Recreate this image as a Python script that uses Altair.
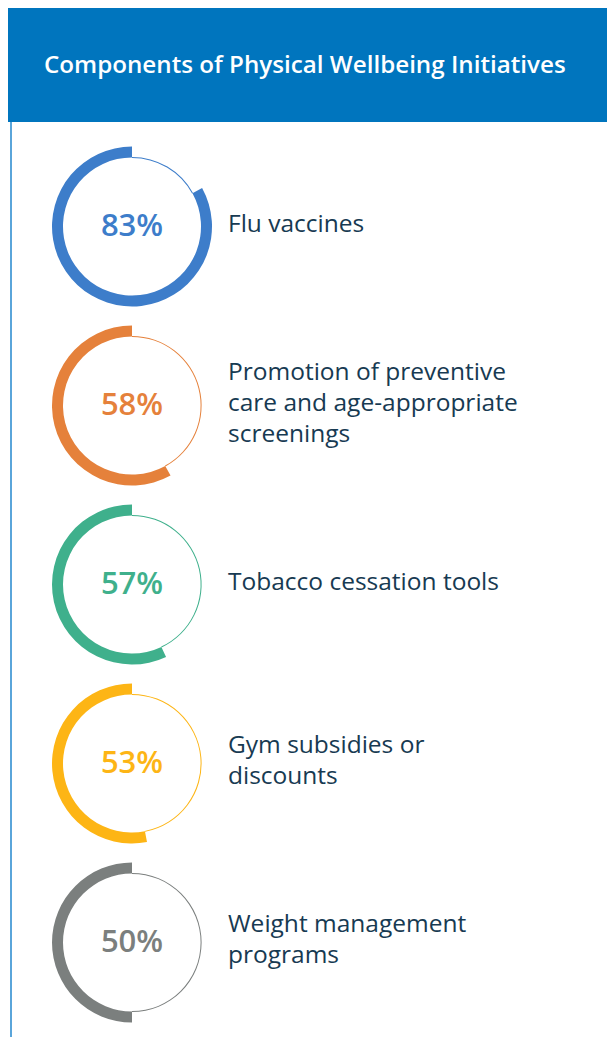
import math
import altair as alt
import pandas as pd

title = "Components of Physical Wellbeing Initiatives"
labels = [
    "Flu vaccines",
    "Promotion of preventive\ncare and age-appropriate\nscreenings",
    "Tobacco cessation tools",
    "Gym subsidies or\ndiscounts",
    "Weight management\nprograms",
]
values = [83, 58, 57, 53, 50]
ring_colors = ["#3D7DCA", "#E5813B", "#3FB08C", "#FDB515", "#7B7F7E"]
pct_colors = ["#0F72B8", "#E5813B", "#3FB08C", "#FDB515", "#7B7F7E"]

W, H = 599, 1029

df = pd.DataFrame({
    "label": labels,
    "value": values,
    "pct": [f"{v}%" for v in values],
    "zero": [0] * len(values),
    "full": [100] * len(values),
})
df["start"] = 100 - df["value"]

# one row per text line, centred on the ring
rows = []
for lab_text in labels:
    parts = lab_text.split("\n")
    n = len(parts)
    for i, p in enumerate(parts):
        rows.append({"label": lab_text, "line": p, "off": i - (n - 1) / 2})
lines_df = pd.DataFrame(rows)

yscale = alt.Scale(type="point", domain=labels, range=[218.5, 934.5], padding=0)
y_enc = alt.Y("label:N", scale=yscale, axis=None)
theta_scale = alt.Scale(type="linear", domain=[0, 100], range=[0, 2 * math.pi])
ring_color = alt.Color("label:N", scale=alt.Scale(domain=labels, range=ring_colors), legend=None)
pct_color = alt.Color("label:N", scale=alt.Scale(domain=labels, range=pct_colors), legend=None)

base = alt.Chart(df)

thin = base.mark_arc(radius=69.6, radius2=68.6).encode(
    x=alt.value(124),
    y=y_enc,
    theta=alt.Theta("zero:Q", scale=theta_scale),
    theta2="start:Q",
    color=ring_color,
)

thick = base.mark_arc(radius=80, radius2=69).encode(
    x=alt.value(124),
    y=y_enc,
    theta=alt.Theta("start:Q", scale=theta_scale),
    theta2="full:Q",
    color=ring_color,
)

pct = base.mark_text(font="Open Sans", fontSize=31, fontWeight=600, align="center", baseline="middle").encode(
    x=alt.value(124),
    y=y_enc,
    text="pct:N",
    color=pct_color,
)

lab = alt.Chart(lines_df).mark_text(font="Open Sans", fontSize=24.5, align="left", baseline="middle",
                                    color="#173A52", dy=-2).encode(
    x=alt.value(220),
    y=y_enc,
    yOffset=alt.YOffset("off:Q", scale=alt.Scale(domain=[-1, 1], range=[-31, 31])),
    text="line:N",
)

hdr_df = pd.DataFrame({"title": [title]})
header = alt.Chart(hdr_df).mark_rect(color="#0075BE").encode(
    x=alt.value(0), x2=alt.value(W), y=alt.value(0), y2=alt.value(114)
)
header_text = alt.Chart(hdr_df).mark_text(font="Open Sans", fontSize=24.2, fontWeight=600,
                                          color="white", align="left", baseline="middle").encode(
    x=alt.value(36), y=alt.value(58), text="title:N"
)
left_line = alt.Chart(hdr_df).mark_rule(color="#5AA5DA", strokeWidth=2).encode(
    x=alt.value(3), y=alt.value(114), y2=alt.value(H)
)

chart = alt.layer(header, header_text, left_line, thin, thick, pct, lab).properties(
    width=W, height=H, autosize=alt.AutoSizeParams(type="none"), padding=0
).configure_view(stroke=None)

chart.save("out.html", embed_options={"renderer": "svg", "actions": False})
